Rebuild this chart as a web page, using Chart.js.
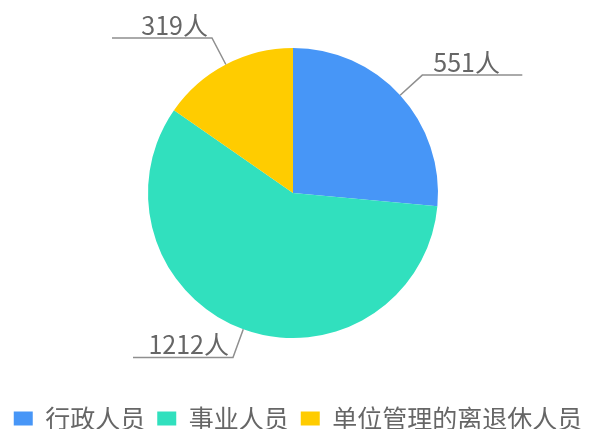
<!DOCTYPE html>
<html>
<head>
<meta charset="utf-8">
<script src="https://cdn.jsdelivr.net/npm/chart.js@4/dist/chart.umd.min.js"></script>
<style>
  html, body { margin: 0; padding: 0; background: #fff; }
  #wrap { width: 596px; height: 429px; }
</style>
</head>
<body>
<div id="wrap"><canvas id="pie"></canvas></div>
<script>
	// ******************************************************** DATA

	var categories = ['行政人员', '事业人员', '单位管理的离退休人员'];
	var counts     = [551, 1212, 319];
	var unit       = '人';
	var colors     = ['#4796f7', '#31e0be', '#ffcc00'];

	// ******************************************************** LABEL LINES

	var labelLines = {
		id: 'labelLines',
		afterDatasetsDraw: function(chart) {
			var ctx = chart.ctx;
			var meta = chart.getDatasetMeta(0);
			ctx.save();
			ctx.font = '25px "Noto Sans CJK SC", "Noto Sans", sans-serif';
			ctx.textBaseline = 'alphabetic';
			meta.data.forEach(function(arc, i) {
				var p = arc.getProps(['x', 'y', 'startAngle', 'endAngle', 'outerRadius'], true);
				var mid = (p.startAngle + p.endAngle) / 2;
				var c = Math.cos(mid), s = Math.sin(mid);
				var x0 = p.x + c * p.outerRadius, y0 = p.y + s * p.outerRadius;
				var x1 = p.x + c * (p.outerRadius + 30), y1 = p.y + s * (p.outerRadius + 30);
				var dir = c >= 0 ? 1 : -1;
				var x2 = x1 + dir * 100;
				ctx.strokeStyle = '#8f8f8f';
				ctx.lineWidth = 1.5;
				ctx.beginPath();
				ctx.moveTo(x0, y0);
				ctx.lineTo(x1, y1);
				ctx.lineTo(x2, y1);
				ctx.stroke();
				ctx.fillStyle = '#666';
				var txt = counts[i] + unit;
				if (dir > 0) {
					ctx.textAlign = 'left';
					ctx.fillText(txt, x1 + 11, y1 - 3);
				} else {
					ctx.textAlign = 'right';
					ctx.fillText(txt, x1 - 4, y1 - 3);
				}
			});
			ctx.restore();
		}
	};

	// ******************************************************** CHART

	var ctx = document.getElementById('pie').getContext('2d');

	window.myChart = new Chart(ctx, {
		type: 'pie',
		data: {
			labels: categories,
			datasets: [{
				data: counts,
				backgroundColor: colors,
				borderWidth: 0,
				radius: 145
			}]
		},
		options: {
			responsive: true,
			maintainAspectRatio: false,
			animation: false,
			layout: { padding: { top: 0, bottom: -12, left: 0, right: 0 } },
			plugins: {
				tooltip: { enabled: false },
				// empty spacer boxes to nudge the pie up and left
				title: {
					display: true,
					position: 'bottom',
					fullSize: false,
					weight: 500,
					text: '',
					font: { size: 1, lineHeight: 1 },
					padding: { top: 3, bottom: 4 }
				},
				subtitle: {
					display: true,
					position: 'right',
					fullSize: false,
					text: '',
					font: { size: 1, lineHeight: 1 },
					padding: { top: 4, bottom: 5 }
				},
				legend: {
					position: 'bottom',
					fullSize: true,
					labels: {
						boxWidth: 19,
						boxHeight: 14,
						padding: 12,
						color: '#666',
						font: { size: 25, family: '"Noto Sans CJK SC", "Noto Sans", sans-serif' }
					}
				}
			}
		},
		plugins: [labelLines]
	});
</script>
</body>
</html>
